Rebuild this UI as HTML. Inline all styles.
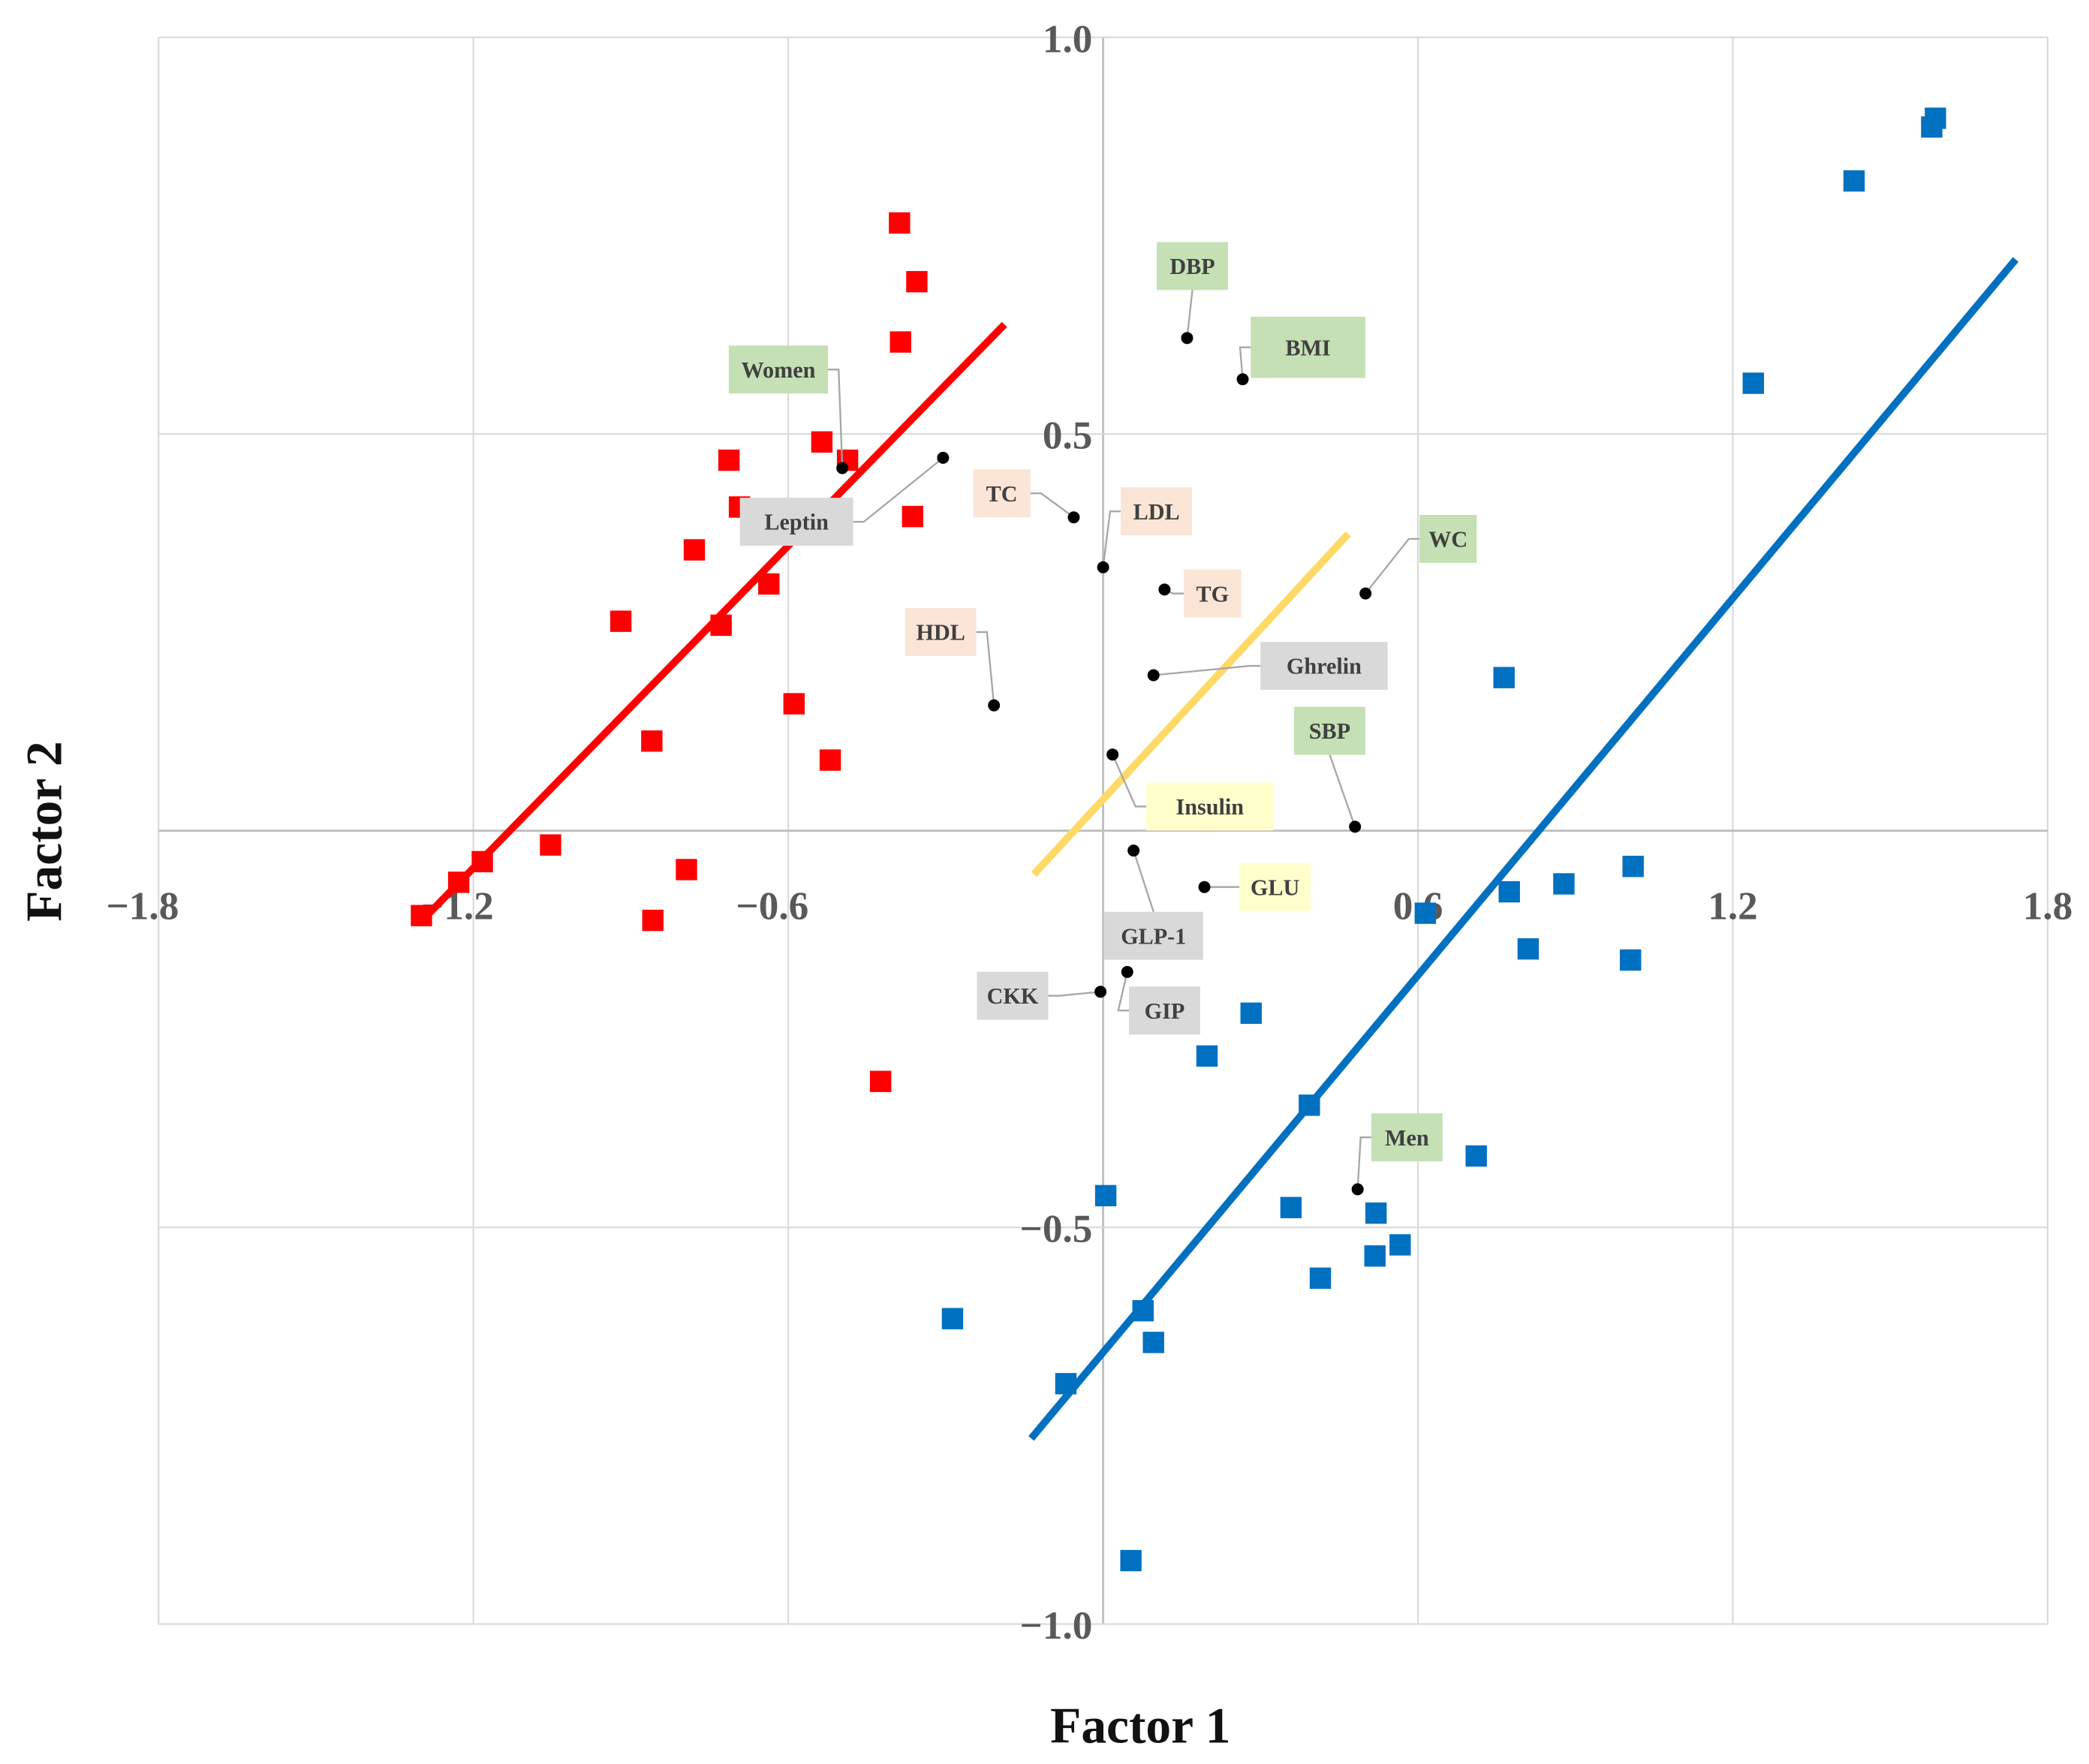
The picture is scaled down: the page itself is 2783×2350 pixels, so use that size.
<!DOCTYPE html>
<html><head><meta charset="utf-8">
<style>
html,body{margin:0;padding:0;background:#fff;}
svg{display:block;}
text{font-family:"Liberation Serif",serif;font-weight:bold;}
</style></head>
<body>
<svg id="chart" width="2783" height="2350" viewBox="0 0 1568 1324" xmlns="http://www.w3.org/2000/svg">
<g id="grid"></g>
<g id="marks"></g>
<g id="labels"></g>
<text x="856" y="1308" text-anchor="middle" font-size="38" fill="#111">Factor 1</text>
<text x="0" y="0" transform="translate(46,624) rotate(-90)" text-anchor="middle" font-size="38" fill="#111">Factor 2</text>
</svg>
<script>
const xTicks=[-1.8,-1.2,-0.6,0,0.6,1.2,1.8];
const xTickLabels=["\u22121.8","\u22121.2","\u22120.6","","0.6","1.2","1.8"];
const yTicks=[-1,-0.5,0,0.5,1];
const yTickLabels=["\u22121.0","\u22120.5","","0.5","1.0"];
const womenX=[-0.388,-0.355,-0.386,-0.536,-0.487,-0.713,-0.693,-0.363,-0.779,-0.637,-0.919,-0.728,-0.589,-0.860,-0.520,-1.053,-0.794,-1.183,-1.228,-1.299,-0.858,-0.424];
const womenY=[0.766,0.692,0.616,0.490,0.467,0.467,0.408,0.396,0.354,0.311,0.264,0.259,0.160,0.113,0.089,-0.018,-0.049,-0.039,-0.065,-0.107,-0.113,-0.316];
const menX=[1.586,1.579,1.431,1.239,0.764,1.010,0.878,0.774,0.614,0.810,1.005,0.282,0.198,0.393,0.711,0.005,0.358,0.520,0.566,0.518,0.414,0.076,0.096,-0.287,-0.071,0.053];
const menY=[0.898,0.887,0.819,0.564,0.193,-0.045,-0.067,-0.077,-0.104,-0.149,-0.163,-0.230,-0.284,-0.346,-0.410,-0.460,-0.475,-0.482,-0.522,-0.536,-0.564,-0.605,-0.645,-0.615,-0.697,-0.920];
const redLine=[[-1.299,-0.114],[-0.188,0.638]];
const blueLine=[[-0.137,-0.766],[1.739,0.720]];
const yellowLine=[[-0.132,-0.055],[0.467,0.374]];
const varNames=["DBP","BMI","Women","Leptin","TC","LDL","TG","WC","HDL","Ghrelin","SBP","Insulin","GLU","GLP-1","GIP","CKK","Men"];
const varX=[0.160,0.266,-0.497,-0.305,-0.056,0,0.117,0.500,-0.208,0.096,0.480,0.018,0.193,0.058,0.046,-0.005,0.485];
const varY=[0.621,0.569,0.457,0.470,0.395,0.332,0.304,0.299,0.158,0.196,0.005,0.096,-0.071,-0.025,-0.178,-0.203,-0.452];
const varGroup=["g","g","g","x","p","p","p","g","p","x","g","y","y","x","x","x","g"];
const labelDX=[4,49,-48,-110,-54,40,36,62,-40,128,-19,73,53,15,28,-66,37];
const labelDY=[-54,-24,-74,48,-18,-42,3,-41,-55,-7,-72,39,0,64,29,3,-39];

const NS="http://www.w3.org/2000/svg";
const X0=119,X1=1537,Y0=1219,Y1=28;
const sx=v=>X0+(v+1.8)/3.6*(X1-X0);
const sy=v=>Y0-(v+1)/2*(Y0-Y1);
function mk(tag,attrs,parent){const e=document.createElementNS(NS,tag);for(const k in attrs)e.setAttribute(k,attrs[k]);parent.appendChild(e);return e;}
const grid=document.getElementById('grid'),marks=document.getElementById('marks'),labels=document.getElementById('labels');

xTicks.forEach((t,i)=>{
  const l=mk('line',{x1:sx(t),x2:sx(t),y1:Y1,y2:Y0,stroke:t===0?'#bfbfbf':'#d9d9d9','stroke-width':t===0?1.6:1.2},grid);
  
  
  if(xTickLabels[i]){
    const tx=mk('text',{x:sx(t)+(t<0?-12:0),y:690,'text-anchor':'middle','font-size':30,fill:'#595959'},grid);
    tx.textContent=xTickLabels[i];
    
    
  }
});
yTicks.forEach((t,i)=>{
  const l=mk('line',{x1:X0,x2:X1,y1:sy(t),y2:sy(t),stroke:t===0?'#bfbfbf':'#d9d9d9','stroke-width':t===0?1.6:1.2},grid);
  
  
  if(yTickLabels[i]){
    const tx=mk('text',{x:820,y:sy(t)+11,'text-anchor':'end','font-size':30,fill:'#595959'},grid);
    tx.textContent=yTickLabels[i];
    
    
  }
});

function drawLine(p,color,name){
  const l=mk('line',{x1:sx(p[0][0]),y1:sy(p[0][1]),x2:sx(p[1][0]),y2:sy(p[1][1]),stroke:color,'stroke-width':5.5},marks);
  
  
}
drawLine(yellowLine,'#ffd966','trend-line-yellow');
womenX.forEach((x,i)=>{
  const r=mk('rect',{x:sx(x)-8,y:sy(womenY[i])-8,width:16,height:16,fill:'#ff0000'},marks);
  
  
});
menX.forEach((x,i)=>{
  const r=mk('rect',{x:sx(x)-8,y:sy(menY[i])-8,width:16,height:16,fill:'#0070c0'},marks);
  
  
});
drawLine(redLine,'#ff0000','trend-line-women');
drawLine(blueLine,'#0070c0','trend-line-men');

const fills={g:'#c5e0b4',p:'#fbe5d6',x:'#d9d9d9',y:'#ffffcc'};
varNames.forEach((n,i)=>{
  const px=sx(varX[i]),py=sy(varY[i]);
  const cx=px+labelDX[i],cy=py+labelDY[i];
  const w=n==='BMI'?86:n.length*10.5+22,h=n==='BMI'?46:36;
  let ex=cx,ey=cy;
  if(Math.abs(labelDX[i])>w/2) ex=cx-Math.sign(labelDX[i])*w/2; else ey=cy-Math.sign(labelDY[i])*h/2;
  const ld=mk('polyline',{points:`${px},${py} ${ex-(Math.abs(labelDX[i])>w/2?Math.sign(labelDX[i])*8:0)},${ey} ${ex},${ey}`,fill:'none',stroke:'#a6a6a6','stroke-width':1.3},labels);
  
  
  const b=mk('rect',{x:cx-w/2,y:cy-h/2,width:w,height:h,fill:fills[varGroup[i]]},labels);
  
  
  const t=mk('text',{x:cx,y:cy+6,'text-anchor':'middle','font-size':17,fill:'#404040'},labels);
  t.textContent=n;
  
  
  const c=mk('circle',{cx:px,cy:py,r:4.5,fill:'#000'},labels);
  
  
});
</script>
</body></html>
